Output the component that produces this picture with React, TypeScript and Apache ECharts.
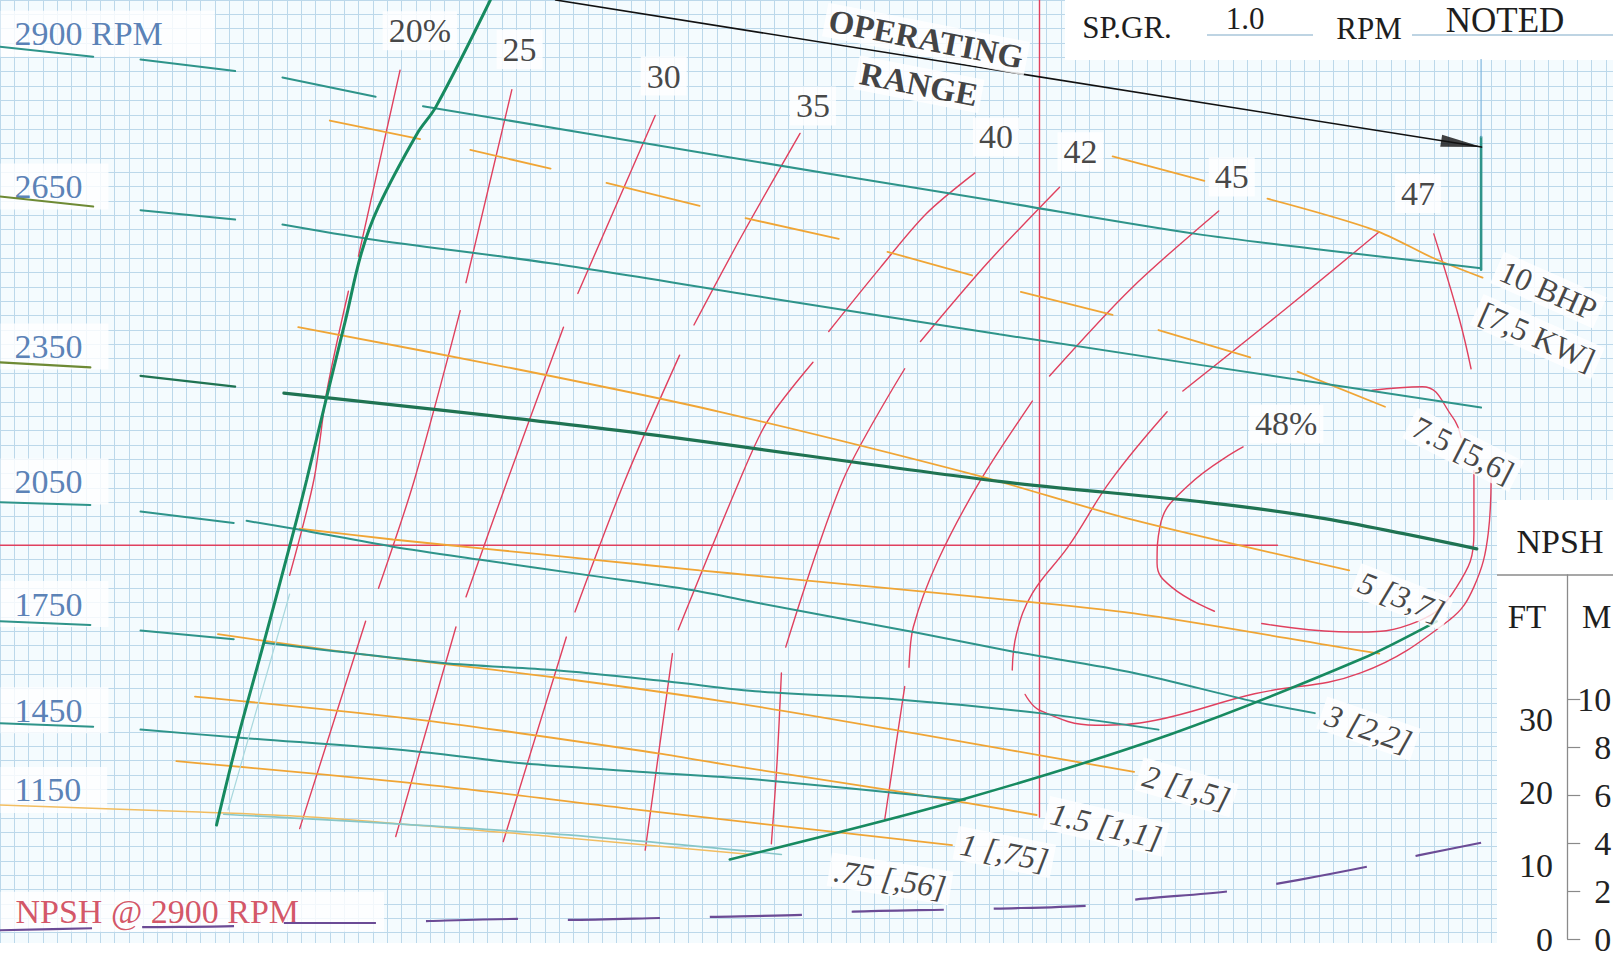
import React, { useEffect, useRef } from "react";
import * as echarts from "echarts";

type Pt = [number, number];
type Seg = Pt[];

// ---------------- DATA (flow in chart-grid units, head / NPSH in ft) ----------------

// Head-capacity curves per speed (segments: label underline, dashes, solid part)
const HQ_2900: Seg[] = [
  [[0, 125.5], [6.5, 124.1]],
  [[9.8, 123.7], [16.4, 122.1]],
  [[19.7, 121.2], [26.2, 118.5]],
  [[29.5, 117.2], [50.2, 110.3], [69.7, 103.9], [83.4, 99.4], [94.3, 96.7], [103.3, 94.6]],
];
const HQ_2650: Seg[] = [
  [[0, 104.6], [6.5, 103.2]],
  [[9.8, 102.7], [16.4, 101.4]],
  [[19.7, 100.7], [25.7, 98.7], [38.4, 95.3], [53.8, 90.4], [69.7, 85.4], [103.3, 75.2]],
];
const HQ_2350_DASH: Seg[] = [
  [[0, 81.5], [6.3, 80.8]],
  [[9.8, 79.6], [16.4, 78.1]],
];
const HQ_2350: Seg[] = [
  [[19.8, 77.2], [43.1, 72.0], [69.7, 64.9], [84.0, 62.0], [92.4, 59.7], [103.0, 55.5]],
];
const HQ_2050: Seg[] = [
  [[0, 62.0], [6.3, 61.6]],
  [[9.8, 60.7], [16.3, 59.1]],
  [[17.2, 59.4], [20.5, 58.3], [27.4, 55.8], [33.4, 54.0], [41.1, 51.8], [48.1, 49.8], [53.0, 47.9], [63.7, 43.9], [70.6, 41.2], [79.1, 38.2], [87.5, 34.2], [91.7, 32.6]],
];
const HQ_1750: Seg[] = [
  [[0, 45.4], [6.3, 44.9]],
  [[9.8, 44.1], [16.3, 42.9]],
  [[18.4, 42.4], [30.9, 39.6], [38.6, 38.6], [46.6, 37.0], [53.0, 35.6], [62.6, 34.5], [72.5, 32.6], [80.8, 30.3]],
];
const HQ_1450: Seg[] = [
  [[0, 31.2], [6.5, 30.7]],
  [[9.8, 30.3], [16.6, 29.2], [28.9, 27.3], [36.4, 25.6], [45.6, 24.3], [53.0, 23.3], [67.3, 20.5]],
];
const HQ_1150: Seg[] = [[[15.6, 18.5], [38.4, 15.8], [54.5, 12.9]]];

// Brake horsepower curves
const BHP_10: Seg[] = [
  [[77.6, 110.2], [84.0, 106.8]],
  [[88.4, 104.3], [95.9, 99.9], [100.0, 96.0], [103.4, 93.3]],
];
const BHP_7_5: Seg[] = [
  [[23.0, 115.2], [29.3, 112.6]],
  [[32.8, 111.1], [38.4, 108.5]],
  [[42.3, 106.5], [48.8, 103.3]],
  [[52.0, 101.6], [58.5, 98.7]],
  [[61.9, 96.9], [67.8, 93.6]],
  [[71.2, 91.3], [77.6, 88.1]],
  [[80.8, 86.0], [87.2, 82.2]],
  [[90.5, 80.2], [96.6, 75.3]],
];
const BHP_5: Seg[] = [[[20.8, 86.4], [35.9, 80.6], [50.2, 74.6], [68.2, 65.7], [78.9, 59.6], [94.1, 52.5]]];
const BHP_3: Seg[] = [[[20.9, 58.3], [27.4, 56.8], [33.9, 55.5], [41.3, 54.0], [48.8, 52.5], [53.0, 51.7], [68.2, 48.8], [79.1, 46.5], [94.9, 41.3], [96.2, 40.9]]];
const BHP_2: Seg[] = [[[15.2, 43.6], [24.9, 40.9], [38.6, 37.6], [51.6, 33.9], [64.0, 29.7], [79.1, 24.4]]];
const BHP_1_5: Seg[] = [[[13.6, 34.9], [29.6, 31.6], [45.9, 27.0], [51.6, 25.1], [62.6, 21.7], [72.3, 18.4]]];
const BHP_1: Seg[] = [[[12.3, 25.9], [28.9, 22.8], [43.8, 19.3], [53.0, 17.2], [66.4, 14.2]]];
const BHP_0_75: Seg[] = [[[0, 19.8], [13.9, 18.8], [22.0, 18.1], [38.4, 15.4], [52.4, 12.9]]];

// Efficiency curves
const EFF_20: Seg[] = [
  [[27.9, 122.2], [25.0, 96.3]],
  [[24.3, 91.4], [22.8, 77.5], [21.9, 65.2], [20.2, 51.8]],
];
const EFF_25: Seg[] = [
  [[35.7, 119.5], [32.5, 92.6]],
  [[32.1, 88.7], [28.9, 65.1], [26.4, 50.0]],
  [[25.5, 45.4], [20.9, 16.5]],
];
const EFF_30: Seg[] = [
  [[45.7, 115.9], [40.3, 91.1]],
  [[39.3, 86.4], [35.4, 65.1], [32.5, 48.8]],
  [[31.8, 44.6], [27.6, 15.4]],
];
const EFF_35: Seg[] = [
  [[55.8, 113.4], [51.7, 99.0], [48.4, 86.7]],
  [[47.4, 82.5], [43.6, 65.1], [40.1, 46.7]],
  [[39.5, 43.2], [35.1, 14.7]],
];
const EFF_40: Seg[] = [
  [[68.0, 107.9], [64.6, 102.2], [61.4, 94.7], [57.8, 85.8]],
  [[56.7, 81.5], [53.5, 73.2], [51.6, 65.1], [47.3, 44.2]],
  [[46.9, 40.9], [45.0, 13.5]],
];
const EFF_42: Seg[] = [
  [[73.9, 105.9], [68.9, 95.4], [64.2, 84.4]],
  [[63.1, 80.6], [58.8, 65.1], [54.8, 41.8]],
  [[54.5, 38.2], [54.2, 25.9], [53.8, 14.4]],
];
const EFF_45: Seg[] = [
  [[85.0, 102.6], [78.9, 91.8], [73.2, 79.6]],
  [[72.0, 76.1], [68.4, 65.1], [65.4, 53.8], [63.7, 44.6], [63.4, 39.0]],
  [[63.1, 36.3], [61.7, 17.7]],
];
const EFF_47: Seg[] = [
  [[96.2, 99.7], [89.7, 89.0], [82.5, 77.5]],
  [[81.4, 74.6], [77.5, 65.1], [74.5, 55.8], [72.0, 49.3], [70.9, 43.7], [70.6, 38.6]],
  [[71.5, 35.2], [72.5, 33.0], [76.4, 30.9], [80.6, 31.6], [87.5, 35.3], [94.9, 38.2], [101.1, 45.6], [102.8, 50.2], [103.8, 57.7], [104.0, 66.0]],
  [[100.0, 99.4], [101.8, 87.4], [102.6, 80.6]],
];
const EFF_48: Seg[] = [
  [[86.7, 69.7], [82.8, 64.2], [80.9, 58.6], [80.7, 53.5], [81.7, 50.2], [84.7, 46.8]],
  [[88.0, 45.1], [94.3, 43.9], [98.9, 45.4], [101.6, 50.2], [102.8, 57.7], [102.8, 66.4]],
  [[95.7, 77.6], [99.2, 78.1], [101.3, 73.9], [101.9, 71.0]],
];

// Limits and operating point lines
const MIN_FLOW: Seg[] = [[[34.2, 132], [30.4, 117.1], [29.1, 113.4], [26.4, 103.2], [25.2, 96.7], [24.1, 87.4], [22.8, 76.8], [21.4, 65.2], [20.5, 58.1], [18.4, 42.4], [16.6, 29.2], [15.1, 17.0]]];
const MIN_FLOW_FAINT: Seg[] = [[[15.9, 19.1], [20.2, 49.2]]];
const RIGHT_LIMIT: Seg[] = [[[50.9, 12.2], [67.0, 20.5], [81.7, 29.7], [94.9, 40.1], [100.2, 45.4]]];
const MAX_FLOW: Seg[] = [[[103.3, 112.9], [103.3, 94.4]]];
const MAX_FLOW_THIN: Seg[] = [[[103.3, 123.7], [103.3, 112.9]]];
const DUTY_V: Seg[] = [[[72.5, 132], [72.5, 18.1]]];
const DUTY_H: Seg[] = [[[0, 56.0], [89.1, 56.0]]];
const RANGE_ARROW: Seg[] = [[[38.75, 132], [103.33, 111.5]]];
const RANGE_ARROW_HEAD: Pt[] = [[101.93, 111.94]];

// NPSH required @ 2900 RPM (ft)
const NPSH_Q = [0, 6.5, 10.3, 16.4, 19.8, 26.3, 30.0, 36.3, 39.7, 46.3, 49.6, 56.2, 59.5, 66.1, 69.5, 76.1, 79.3, 85.8, 90.6, 95.8, 99.0, 103.3];
const NPSH_FT = [1.61, 1.89, 2.04, 2.18, 2.6, 2.6, 2.88, 3.16, 3.02, 3.3, 3.44, 3.73, 4.15, 4.43, 4.57, 5.0, 5.84, 6.97, 8.52, 10.49, 11.9, 13.59];

// NPSH scale ticks
const NPSH_FT_TICKS = [0, 10, 20, 30];
const NPSH_M_TICKS = [0, 2, 4, 6, 8, 10];

// Text annotations
const RPM_LABELS = ["2900 RPM", "2650", "2350", "2050", "1750", "1450", "1150"];
const RPM_LABEL_HEAD = [127.3, 106.0, 83.7, 64.9, 47.8, 33.0, 21.9];
const EFF_LABELS = ["20%", "25", "30", "35", "40", "42", "45", "47", "48%"];
const EFF_LABEL_AT: Pt[] = [[29.28, 127.7], [36.24, 125.11], [46.29, 121.39], [56.7, 117.23], [69.47, 112.92], [75.36, 110.84], [85.91, 107.33], [98.9, 105.03], [89.71, 72.9]];
const BHP_LABELS = ["10 BHP", "[7,5 KW]", "7.5 [5,6]", "5 [3,7]", "3 [2,2]", "2 [1,5]", "1.5 [1,1]", "1 [,75]", ".75 [,56]"];
const BHP_LABEL_AT: Pt[] = [[108.0, 91.55], [107.22, 85.1], [102.05, 69.32], [97.75, 48.8], [95.45, 30.44], [82.75, 22.27], [77.15, 16.82], [70.05, 13.23], [62.08, 9.5]];
const BHP_LABEL_ROT = [-24, -24, -27, -21, -19, -16, -13, -11, -9];
const RANGE_LABELS = ["OPERATING", "RANGE"];
const RANGE_LABEL_AT: Pt[] = [[64.59, 126.55], [64.09, 120.24]];
const NPSH_TITLE = "NPSH @ 2900 RPM";

// ---------------- STYLE ----------------
const SERIF = "'Liberation Serif', 'Times New Roman', serif";
const TEAL = "#2e948a";
const TEAL_DARK = "#1f7352";
const OLIVE = "#6e8a34";
const GREEN = "#178a60";
const ORANGE = "#f0a535";
const RED = "#e0405e";
const PURPLE = "#6b4b95";
const BLUE_TXT = "#2f61a3";
const RED_TXT = "#c92a40";
const GRID_LINE = "#bcd8ea";

function segSeries(segs: Seg[], color: string, width: number, smooth: number, z: number, firstColor?: string, yAxisIndex = 0): any[] {
  return segs.map((seg, i) => ({
    type: "line",
    xAxisIndex: 0,
    yAxisIndex,
    data: seg,
    symbol: "none",
    showSymbol: false,
    smooth,
    silent: true,
    z,
    lineStyle: { color: i === 0 && firstColor ? firstColor : color, width, cap: "round" },
  }));
}

function buildOption(): any {
  const series: any[] = [
    // operating lines
    ...segSeries(DUTY_V, RED, 1.4, 0, 2),
    ...segSeries(DUTY_H, RED, 1.4, 0, 2),
    // efficiency
    ...segSeries(EFF_20, RED, 1.4, 0.3, 3),
    ...segSeries(EFF_25, RED, 1.4, 0.3, 3),
    ...segSeries(EFF_30, RED, 1.4, 0.3, 3),
    ...segSeries(EFF_35, RED, 1.4, 0.3, 3),
    ...segSeries(EFF_40, RED, 1.4, 0.3, 3),
    ...segSeries(EFF_42, RED, 1.4, 0.3, 3),
    ...segSeries(EFF_45, RED, 1.4, 0.3, 3),
    ...segSeries(EFF_47, RED, 1.4, 0.4, 3),
    ...segSeries(EFF_48, RED, 1.4, 0.45, 3),
    // BHP
    ...segSeries(BHP_10, ORANGE, 1.8, 0.3, 3),
    ...segSeries(BHP_7_5, ORANGE, 1.8, 0, 3),
    ...segSeries(BHP_5, ORANGE, 1.8, 0.3, 3),
    ...segSeries(BHP_3, ORANGE, 1.8, 0.3, 3),
    ...segSeries(BHP_2, ORANGE, 1.8, 0.3, 3),
    ...segSeries(BHP_1_5, ORANGE, 1.8, 0.3, 3),
    ...segSeries(BHP_1, ORANGE, 1.8, 0.3, 3),
    ...segSeries(BHP_0_75, "#f2bd60", 1.5, 0.3, 3),
    // head-capacity
    ...segSeries(HQ_2900, TEAL, 2, 0.3, 4),
    ...segSeries(HQ_2650, TEAL, 2, 0.3, 4, OLIVE),
    ...segSeries(HQ_2350_DASH, TEAL_DARK, 2.2, 0, 4, OLIVE),
    ...segSeries(HQ_2350, TEAL_DARK, 3.2, 0.3, 4),
    ...segSeries(HQ_2050, TEAL, 2, 0.3, 4),
    ...segSeries(HQ_1750, TEAL, 2, 0.3, 4),
    ...segSeries(HQ_1450, TEAL, 2, 0.3, 4),
    ...segSeries(HQ_1150, "#86c6c8", 1.6, 0.3, 4),
    // limits
    ...segSeries(MIN_FLOW_FAINT, "#a9d8de", 1.2, 0, 4),
    ...segSeries(MIN_FLOW, GREEN, 3, 0.35, 5),
    ...segSeries(RIGHT_LIMIT, GREEN, 2.6, 0.3, 5),
    ...segSeries(MAX_FLOW, TEAL, 2.6, 0, 5),
    ...segSeries(MAX_FLOW_THIN, "#7fb6de", 1.2, 0, 5),
    ...segSeries(RANGE_ARROW, "#111", 1.6, 0, 5),
    {
      type: "scatter",
      data: RANGE_ARROW_HEAD,
      symbol: "path://M0,0L40,6L0,12Z",
      symbolSize: [41, 12],
      symbolRotate: -9,
      itemStyle: { color: "#111" },
      silent: true,
      z: 6,
    },
    // NPSH
    {
      type: "line",
      xAxisIndex: 0,
      yAxisIndex: 1,
      data: NPSH_Q.map((q, i) => [q, NPSH_FT[i]]),
      symbol: "none",
      smooth: 0.3,
      silent: true,
      z: 4,
      lineStyle: { color: PURPLE, width: 2.2, type: [92, 50] },
    },
    // RPM labels (behind the lines)
    {
      type: "scatter",
      z: 1,
      silent: true,
      symbolSize: 1,
      itemStyle: { color: "rgba(0,0,0,0)" },
      label: {
        show: true,
        position: "right",
        distance: 0,
        formatter: "{b}",
        fontFamily: SERIF,
        fontSize: 34,
        lineHeight: 34,
        color: BLUE_TXT,
        backgroundColor: "#ffffff",
        padding: [6, 26, 6, 14],
      },
      data: RPM_LABELS.map((t, i) => ({
        name: t,
        value: [0, RPM_LABEL_HEAD[i]],
        label: i === 0 ? { padding: [6, 52, 6, 14] } : {},
      })),
    },
    {
      type: "scatter",
      z: 1,
      silent: true,
      symbolSize: 1,
      itemStyle: { color: "rgba(0,0,0,0)" },
      label: {
        show: true,
        position: "right",
        distance: 0,
        formatter: "{b}",
        fontFamily: SERIF,
        fontSize: 34,
        lineHeight: 30,
        color: RED_TXT,
        backgroundColor: "#ffffff",
        padding: [8, 85, 2, 15],
      },
      data: [{ name: NPSH_TITLE, value: [0, 4.91] }],
    },
    // efficiency labels
    {
      type: "scatter",
      z: 7,
      silent: true,
      symbolSize: 1,
      itemStyle: { color: "rgba(0,0,0,0)" },
      label: {
        show: true,
        position: "inside",
        formatter: "{b}",
        fontFamily: SERIF,
        fontSize: 34,
        lineHeight: 34,
        color: "#161616",
        backgroundColor: "#ffffff",
        padding: [3, 6, 2, 6],
      },
      data: EFF_LABELS.map((t, i) => ({ name: t, value: EFF_LABEL_AT[i] })),
    },
    // BHP labels
    {
      type: "scatter",
      z: 7,
      silent: true,
      symbolSize: 1,
      itemStyle: { color: "rgba(0,0,0,0)" },
      label: {
        show: true,
        position: "inside",
        formatter: "{b}",
        fontFamily: SERIF,
        fontSize: 32,
        lineHeight: 32,
        color: "#161616",
        backgroundColor: "#ffffff",
        padding: [1, 5, 1, 5],
      },
      data: BHP_LABELS.map((t, i) => ({
        name: t,
        value: BHP_LABEL_AT[i],
        label: { rotate: BHP_LABEL_ROT[i], fontStyle: i >= 3 ? "italic" : "normal" },
      })),
    },
    // operating range labels
    {
      type: "scatter",
      z: 7,
      silent: true,
      symbolSize: 1,
      itemStyle: { color: "rgba(0,0,0,0)" },
      label: {
        show: true,
        position: "inside",
        formatter: "{b}",
        fontFamily: SERIF,
        fontSize: 33,
        fontWeight: "bold",
        lineHeight: 32,
        color: "#111",
        backgroundColor: "#ffffff",
        padding: [1, 4, 1, 4],
        rotate: -11,
      },
      data: RANGE_LABELS.map((t, i) => ({ name: t, value: RANGE_LABEL_AT[i] })),
    },
    // NPSH panel series (activate panel axes)
    { type: "line", xAxisIndex: 1, yAxisIndex: 2, data: [], silent: true },
    { type: "line", xAxisIndex: 1, yAxisIndex: 3, data: [], silent: true },
  ];

  const hiddenAxisParts = {
    axisLine: { show: false },
    axisTick: { show: false },
    axisLabel: { show: false },
  };

  const txt = (text: string, x: number, y: number, size: number, align = "center") => ({
    type: "text",
    x,
    y,
    z: 3,
    silent: true,
    style: {
      text,
      fontSize: size,
      fontFamily: SERIF,
      fill: "#1e1e1e",
      align,
      verticalAlign: "middle",
    },
  });

  return {
    animation: false,
    backgroundColor: "#f4fbfe",
    grid: [
      { left: 0, top: 0, width: 1613, height: 947, containLabel: false },
      { left: 1567, top: 575, width: 1, height: 364, containLabel: false },
    ],
    xAxis: [
      {
        type: "value",
        gridIndex: 0,
        min: 0,
        max: 112.5,
        interval: 1,
        ...hiddenAxisParts,
        splitLine: { show: true, lineStyle: { color: GRID_LINE, width: 1 } },
      },
      { type: "value", gridIndex: 1, min: 0, max: 1, show: false },
    ],
    yAxis: [
      {
        type: "value",
        gridIndex: 0,
        min: 0,
        max: 132,
        interval: 2,
        ...hiddenAxisParts,
        splitLine: { show: true, lineStyle: { color: GRID_LINE, width: 1 } },
      },
      {
        type: "value",
        gridIndex: 0,
        min: -0.685,
        max: 129.04,
        show: false,
        splitLine: { show: false },
      },
      {
        type: "value",
        gridIndex: 1,
        position: "left",
        min: 0,
        max: 49.86,
        interval: 10,
        z: 5,
        axisLine: { show: true, lineStyle: { color: "#8a8a8a", width: 1.3 } },
        axisTick: { show: false },
        splitLine: { show: false },
        axisLabel: {
          show: true,
          margin: 14,
          fontSize: 34,
          fontFamily: SERIF,
          color: "#222",
          customValues: NPSH_FT_TICKS,
          formatter: (v: number) => (v <= 30 ? String(v) : ""),
        },
      },
      {
        type: "value",
        gridIndex: 1,
        position: "right",
        min: 0,
        max: 15.2,
        interval: 2,
        z: 5,
        axisLine: { show: false },
        axisTick: {
          show: true,
          length: 13,
          lineStyle: { color: "#8a8a8a", width: 1.2 },
          customValues: NPSH_M_TICKS,
        },
        splitLine: { show: false },
        axisLabel: {
          show: true,
          margin: 44,
          align: "right",
          fontSize: 34,
          fontFamily: SERIF,
          color: "#222",
          customValues: NPSH_M_TICKS,
          formatter: (v: number) => (v <= 10 ? String(v) : ""),
        },
      },
    ],
    graphic: [
      { type: "rect", z: 1, silent: true, shape: { x: 1065, y: 0, width: 548, height: 60 }, style: { fill: "#ffffff" } },
      { type: "rect", z: 1, silent: true, shape: { x: 1497, y: 500, width: 116, height: 456 }, style: { fill: "#ffffff" } },
      { type: "rect", z: 1, silent: true, shape: { x: 0, y: 943, width: 1613, height: 13 }, style: { fill: "#ffffff" } },
      { type: "line", z: 2, silent: true, shape: { x1: 1207, y1: 35, x2: 1313, y2: 35 }, style: { stroke: "#a9c6da", lineWidth: 1.3 } },
      { type: "line", z: 2, silent: true, shape: { x1: 1412, y1: 35, x2: 1613, y2: 35 }, style: { stroke: "#a9c6da", lineWidth: 1.3 } },
      { type: "line", z: 2, silent: true, shape: { x1: 1497, y1: 575, x2: 1613, y2: 575 }, style: { stroke: "#8a8a8a", lineWidth: 1.3 } },
      txt("SP.GR.", 1127, 27, 31),
      txt("1.0", 1245, 18, 31),
      txt("RPM", 1369, 28, 31),
      txt("NOTED", 1505, 20, 35),
      txt("NPSH", 1560, 541, 34),
      txt("FT", 1527, 617, 33),
      txt("M", 1582, 617, 33, "left"),
    ],
    series,
  };
}

export default function App() {
  const ref = useRef<HTMLDivElement>(null);
  useEffect(() => {
    if (!ref.current) return;
    const chart = echarts.init(ref.current, undefined, { renderer: "svg" });
    chart.setOption(buildOption());
    return () => {
      chart.dispose();
    };
  }, []);
  return (
    <div
      ref={ref}
      style={{ position: "fixed", left: 0, top: 0, width: 1613, height: 956, background: "#f4fbfe" }}
    />
  );
}
